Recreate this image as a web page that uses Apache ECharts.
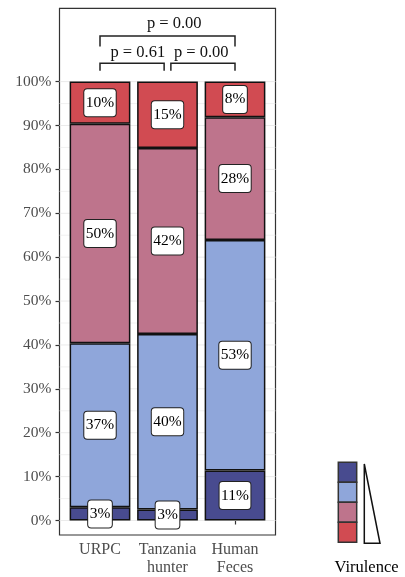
<!DOCTYPE html>
<html><head><meta charset="utf-8">
<script src="https://cdn.jsdelivr.net/npm/echarts@6/dist/echarts.min.js"></script>
<style>html,body{margin:0;padding:0;background:#fff}#c{width:405px;height:577px}</style>
</head><body><div id="c"></div>
<script>
// ---- data ----
const categories = ['URPC', 'Tanzania\nhunter', 'Human\nFeces'];
// virulence levels, stacked bottom -> top
const level1 = [0.030, 0.025, 0.114];
const level2 = [0.374, 0.400, 0.525];
const level3 = [0.500, 0.424, 0.280];
const level4 = [0.096, 0.151, 0.081];
const labels1 = ['3%', '3%', '11%'];
const labels2 = ['37%', '40%', '53%'];
const labels3 = ['50%', '42%', '28%'];
const labels4 = ['10%', '15%', '8%'];
const levelColors = ['#484B8F', '#8FA6DA', '#BE748C', '#D14B52'];
const yTicks = [0, 0.1, 0.2, 0.3, 0.4, 0.5, 0.6, 0.7, 0.8, 0.9, 1.0];
const gridBreaks = [0, 0.05, 0.1, 0.15, 0.2, 0.25, 0.3, 0.35, 0.4, 0.45, 0.5, 0.55, 0.6, 0.65, 0.7, 0.75, 0.8, 0.85, 0.9, 0.95, 1.0];
// significance brackets (x in category units, 1-based)
const comparisons = [[1, 1.95], [2.05, 3], [1, 3]];
const pLabels = ['p = 0.61', 'p = 0.00', 'p = 0.00'];
const bracketY = [1.042, 1.042, 1.104];
const tipY = [1.025, 1.025, 1.080];
const pLabelX = [1.56, 2.50, 2.10];
const pLabelY = [1.066, 1.066, 1.131];
const legendTitle = 'Virulence';

// ---- chart ----
const SERIF = "'Liberation Serif', 'DejaVu Serif', serif";
const levels = [level1, level2, level3, level4];
const levelLabels = [labels1, labels2, labels3, labels4];
const Y_MIN = -0.033, Y_MAX = 1.167;

const barSeries = levels.map((vals, k) => ({
  type: 'bar',
  stack: 'v',
  xAxisIndex: 1, yAxisIndex: 1,
  z: 2,
  barWidth: '90%',
  data: vals,
  itemStyle: { color: levelColors[k], borderColor: '#111', borderWidth: 1.5 },
  label: {
    show: true,
    position: 'inside',
    formatter: p => levelLabels[k][p.dataIndex],
    color: '#000',
    fontFamily: SERIF,
    fontSize: 15.5,
    lineHeight: 17,
    backgroundColor: '#fff',
    borderColor: '#222',
    borderWidth: 1,
    borderRadius: 3,
    padding: [5, 1.5, 5, 1.5]
  },
  emphasis: { disabled: true },
  silent: true
}));

const gridSeries = {
  type: 'custom',
  xAxisIndex: 0, yAxisIndex: 0,
  z: 1,
  silent: true,
  data: gridBreaks.map(v => [1, v]),
  renderItem: (params, api) => {
    const cs = params.coordSys;
    const y = api.coord([1, api.value(1)])[1];
    const major = params.dataIndex % 2 === 0;
    return {
      type: 'line',
      shape: { x1: cs.x, y1: y, x2: cs.x + cs.width, y2: y },
      style: { stroke: '#EBEBEB', lineWidth: major ? 1 : 0.7 }
    };
  }
};

const bracketSeries = {
  type: 'custom',
  xAxisIndex: 0, yAxisIndex: 0,
  z: 3,
  silent: true,
  data: pLabelX.map((x, i) => [x, pLabelY[i]]),
  renderItem: (params, api) => {
    const i = params.dataIndex;
    const [x1, x2] = comparisons[i];
    const a = api.coord([x1, tipY[i]]);
    const b = api.coord([x1, bracketY[i]]);
    const c = api.coord([x2, bracketY[i]]);
    const d = api.coord([x2, tipY[i]]);
    const t = api.coord([pLabelX[i], pLabelY[i]]);
    return {
      type: 'group',
      children: [
        { type: 'polyline', shape: { points: [a, b, c, d] }, style: { stroke: '#222', lineWidth: 1.5, fill: null } },
        { type: 'text', x: t[0], y: t[1], style: { text: pLabels[i], align: 'center', verticalAlign: 'middle', fontFamily: SERIF, fontSize: 16.5, fill: '#111' } }
      ]
    };
  }
};

// legend graphic (top: level1 ... bottom: level4)
const legendGraphic = [];
levelColors.forEach((col, k) => {
  legendGraphic.push({
    type: 'rect',
    shape: { x: 338.3, y: 462.3 + k * 20, width: 18.4, height: 20 },
    style: { fill: col, stroke: '#333', lineWidth: 1.5 }
  });
});
legendGraphic.push({
  type: 'polygon',
  shape: { points: [[364.3, 464], [364.3, 543.3], [380, 543.3]] },
  style: { fill: '#fff', stroke: '#111', lineWidth: 1.5 }
});
legendGraphic.push({
  type: 'text',
  x: 366.5, y: 568,
  style: { text: legendTitle, align: 'center', verticalAlign: 'middle', fontFamily: SERIF, fontSize: 16.5, fill: '#000' }
});

const chart = echarts.init(document.getElementById('c'), null, { renderer: 'canvas' });
chart.setOption({
  animation: false,
  backgroundColor: '#fff',
  grid: [
    { // panel
      left: 59.5, right: 129.5, top: 8.3, bottom: 42,
      show: true, borderColor: '#333', borderWidth: 1.2, backgroundColor: 'transparent'
    },
    { // bars: band of 3 categories inside the panel (0.6-unit expansion each side)
      left: 66.25, right: 136.25, top: 8.3, bottom: 42, show: false
    }
  ],
  xAxis: [
    {
      gridIndex: 0,
      type: 'value', min: 0.4, max: 3.6,
      axisLine: { show: false },
      splitLine: { show: false },
      axisTick: { show: true, length: 4, customValues: [1, 2, 3], lineStyle: { color: '#333', width: 1.2 } },
      axisLabel: {
        customValues: [1, 2, 3],
        formatter: v => categories[Math.round(v) - 1],
        fontFamily: SERIF, fontSize: 16, color: '#4D4D4D', lineHeight: 18, margin: 6, align: 'center'
      }
    },
    {
      gridIndex: 1,
      type: 'category', data: categories,
      show: false
    }
  ],
  yAxis: [
    {
      gridIndex: 0,
      type: 'value', min: Y_MIN, max: Y_MAX,
      axisLine: { show: false },
      splitLine: { show: false },
      axisTick: { show: true, length: 4, customValues: yTicks, lineStyle: { color: '#333', width: 1.2 } },
      axisLabel: {
        customValues: yTicks,
        formatter: v => Math.round(v * 100) + '%',
        fontFamily: SERIF, fontSize: 15.5, color: '#4D4D4D', margin: 8
      }
    },
    {
      gridIndex: 1,
      type: 'value', min: Y_MIN, max: Y_MAX,
      show: false, splitLine: { show: false }
    }
  ],
  series: [gridSeries].concat(barSeries, [bracketSeries]),
  graphic: legendGraphic
});
</script>
</body></html>
